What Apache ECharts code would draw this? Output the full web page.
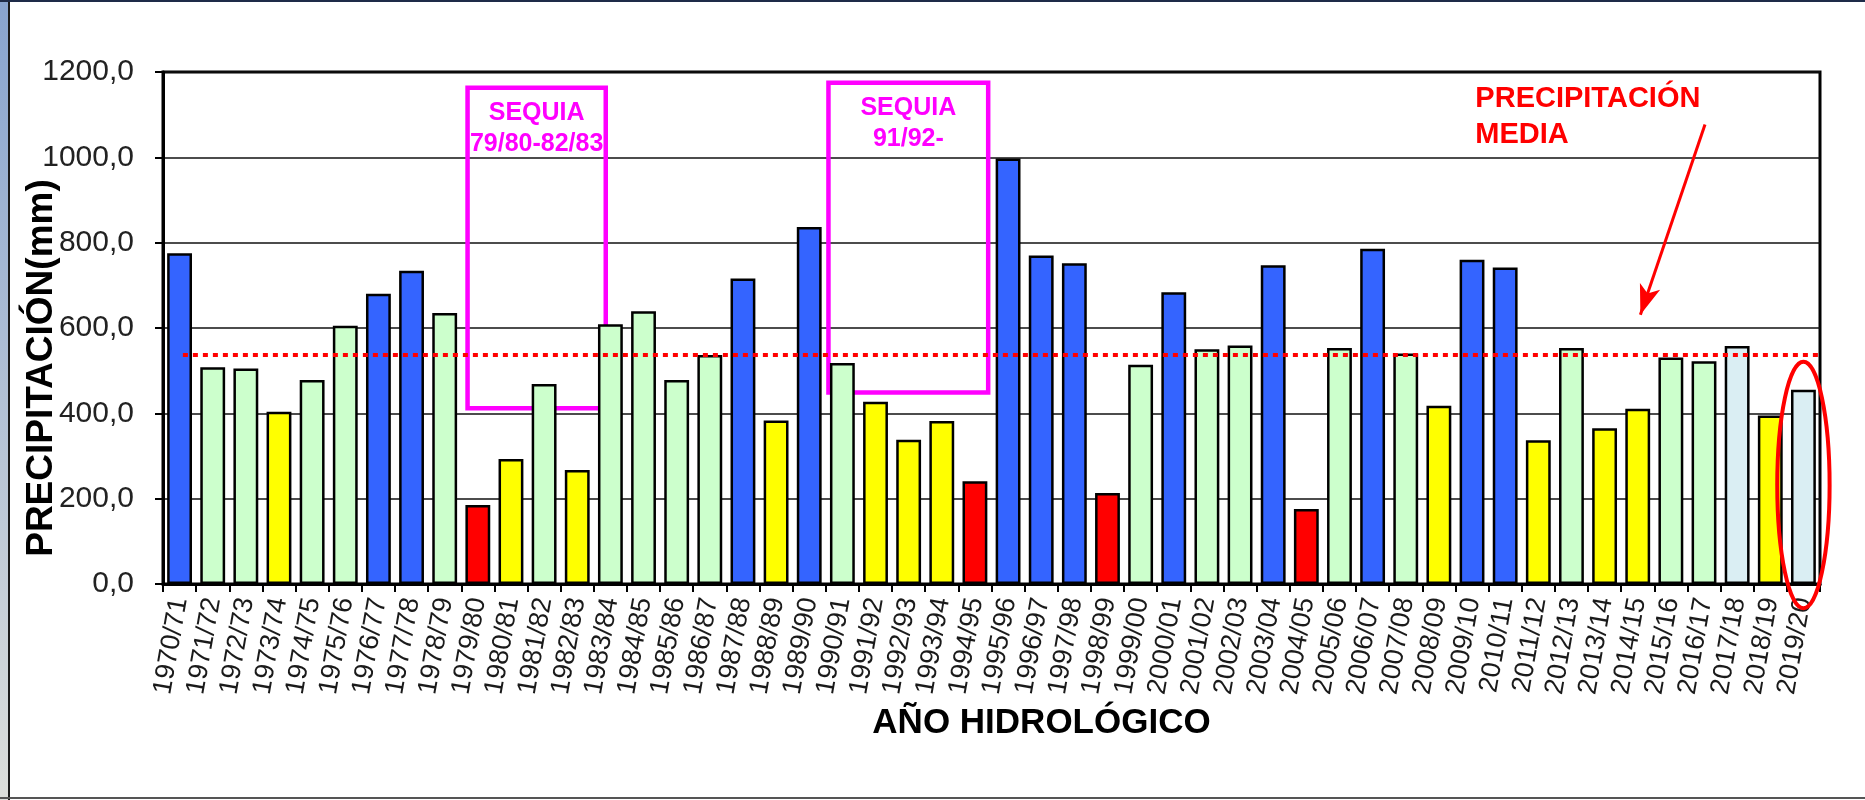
<!DOCTYPE html>
<html>
<head>
<meta charset="utf-8">
<script src="https://cdn.jsdelivr.net/npm/echarts@6/dist/echarts.min.js"></script>
<style>
  html, body { margin: 0; padding: 0; background: #fff; }
  #chart { width: 1865px; height: 800px; }
</style>
</head>
<body>
<div id="chart"></div>
<script>
var years = ['1970/71', '1971/72', '1972/73', '1973/74', '1974/75', '1975/76', '1976/77', '1977/78', '1978/79', '1979/80',
    '1980/81', '1981/82', '1982/83', '1983/84', '1984/85', '1985/86', '1986/87', '1987/88', '1988/89', '1989/90',
    '1990/91', '1991/92', '1992/93', '1993/94', '1994/95', '1995/96', '1996/97', '1997/98', '1998/99', '1999/00',
    '2000/01', '2001/02', '2002/03', '2003/04', '2004/05', '2005/06', '2006/07', '2007/08', '2008/09', '2009/10',
    '2010/11', '2011/12', '2012/13', '2013/14', '2014/15', '2015/16', '2016/17', '2017/18', '2018/19', '2019/20'];

// precipitacion anual (mm)
var precipitacion = [775, 508, 505, 404, 478, 605, 680, 734, 635, 185,
    293, 469, 267, 609, 639, 478, 537, 716, 383, 837,
    518, 427, 338, 382, 241, 997, 770, 752, 213, 514,
    684, 550, 559, 747, 176, 553, 786, 540, 418, 760,
    742, 337, 553, 365, 411, 531, 522, 558, 395, 455];

// H humedo, M medio, S seco, MS muy seco, C en curso
var clase = ['H', 'M', 'M', 'S', 'M', 'M', 'H', 'H', 'M', 'MS',
    'S', 'M', 'S', 'M', 'M', 'M', 'M', 'H', 'S', 'H',
    'M', 'S', 'S', 'S', 'MS', 'H', 'H', 'H', 'MS', 'M',
    'H', 'M', 'M', 'H', 'MS', 'M', 'H', 'M', 'S', 'H',
    'H', 'S', 'M', 'S', 'S', 'M', 'M', 'C', 'S', 'C'];

var precipMedia = 537;
var yTicks = [0, 200, 400, 600, 800, 1000, 1200];

var colores = {H: '#3464FF', M: '#CCFFCC', S: '#FFFF00', MS: '#FF0000', C: '#DAEEF3'};

// recuadros de sequia: [x inicio, x fin] en unidades de categoria, [y abajo, y arriba] en mm
var sequias = [
    {texto: 'SEQUIA\n79/80-82/83', x: [9.19, 13.36], y: [412, 1163]},
    {texto: 'SEQUIA\n91/92-', x: [20.08, 24.9], y: [449, 1175]}
];

var fuente = '"Liberation Sans", Arial, sans-serif';

var chart = echarts.init(document.getElementById('chart'));

var barData = precipitacion.map(function (v, i) {
    return {value: v, itemStyle: {color: colores[clase[i]]}};
});

var option = {
    animation: false,
    textStyle: {fontFamily: fuente},
    grid: {
        left: 163, right: 45, top: 72, bottom: 216,
        outerBoundsMode: 'none',
        show: true, borderColor: '#000', borderWidth: 3
    },
    xAxis: [
        {
            type: 'category',
            data: years,
            axisLine: {lineStyle: {color: '#000', width: 3}},
            axisTick: {show: true, length: 8, lineStyle: {color: '#000', width: 2}},
            axisLabel: {interval: 0, rotate: 80, fontSize: 27, color: '#1a1a1a', margin: 14, fontFamily: fuente},
            name: 'AÑO HIDROLÓGICO',
            nameLocation: 'middle',
            nameGap: 122,
            nameTextStyle: {fontSize: 35, fontWeight: 'bold', color: '#000', padding: [0, 0, 0, 100], fontFamily: fuente}
        },
        {type: 'value', min: 0, max: 50, show: false}
    ],
    yAxis: {
        type: 'value',
        min: yTicks[0],
        max: yTicks[yTicks.length - 1],
        interval: 200,
        axisLine: {show: true, lineStyle: {color: '#000', width: 3}},
        axisTick: {show: true, length: 8, lineStyle: {color: '#000', width: 2}},
        axisLabel: {
            fontSize: 30, color: '#222', margin: 29, fontFamily: fuente,
            formatter: function (v) { return v.toFixed(1).replace('.', ','); }
        },
        splitLine: {lineStyle: {color: '#111', width: 1.5}},
        name: 'PRECIPITACIÓN(mm)',
        nameLocation: 'middle',
        nameGap: 103,
        nameMoveOverlap: false,
        nameTextStyle: {fontSize: 37, fontWeight: 'bold', color: '#000', padding: [0, 80, 0, 0], fontFamily: fuente}
    },
    series: [
        {
            type: 'bar',
            data: barData,
            barCategoryGap: '25%',
            itemStyle: {borderColor: '#000', borderWidth: 2.5},
            z: 2
        },
        {
            // linea de precipitacion media
            type: 'line',
            xAxisIndex: 1,
            data: [],
            markLine: {
                silent: true,
                symbol: 'none',
                label: {show: false},
                lineStyle: {color: '#FF0000', width: 4, type: [5, 5]},
                data: [[{coord: [0.6, precipMedia]}, {coord: [50, precipMedia]}]]
            },
            z: 5
        },
        {
            // flecha
            type: 'line',
            xAxisIndex: 1,
            data: [],
            markLine: {
                silent: true,
                symbol: ['none', 'arrow'],
                symbolSize: [16, 30],
                label: {show: false},
                lineStyle: {color: '#FF0000', width: 3, type: 'solid'},
                data: [[{coord: [46.53, 1077]}, {coord: [44.58, 631]}]]
            },
            z: 6
        },
        {
            // recuadros de sequia
            type: 'line',
            xAxisIndex: 1,
            data: [],
            markArea: {
                silent: true,
                itemStyle: {color: 'rgba(0,0,0,0)', borderColor: '#FF00FF', borderWidth: 4.5},
                label: {
                    show: true, position: 'insideTop', distance: 12,
                    color: '#FF00FF', fontSize: 25, fontWeight: 'bold', lineHeight: 31,
                    fontFamily: fuente, align: 'center'
                },
                data: sequias.map(function (s) {
                    return [
                        {name: s.texto, coord: [s.x[0], s.y[1]]},
                        {coord: [s.x[1], s.y[0]]}
                    ];
                })
            },
            z: 7
        }
    ]
};

chart.setOption(option);

// elipse roja y texto de precipitacion media, situados con las escalas del grafico
var c = chart.convertToPixel({xAxisIndex: 1, yAxisIndex: 0}, [49.5, 232]);
var e1 = chart.convertToPixel({xAxisIndex: 1, yAxisIndex: 0}, [48.71, 521]);
var t = chart.convertToPixel({xAxisIndex: 1, yAxisIndex: 0}, [39.6, 1180]);

chart.setOption({
    graphic: [
        {
            type: 'rect', left: 0, top: 0, z: 0,
            shape: {width: 8, height: 800},
            style: {fill: new echarts.graphic.LinearGradient(0, 0, 0, 1, [
                {offset: 0, color: '#88A4CF'}, {offset: 1, color: '#DCDEDB'}])}
        },
        {type: 'rect', left: 8, top: 0, z: 0, shape: {width: 2, height: 800}, style: {fill: '#1b1b1b'}},
        {type: 'rect', left: 0, top: 0, z: 0, shape: {width: 1865, height: 2}, style: {fill: '#1e2b48'}},
        {type: 'rect', left: 0, top: 797, z: 0, shape: {width: 1865, height: 2}, style: {fill: '#555'}},
        {
            type: 'ellipse', z: 100,
            shape: {cx: c[0], cy: c[1], rx: c[0] - e1[0], ry: c[1] - e1[1]},
            style: {fill: null, stroke: '#FF0000', lineWidth: 4}
        },
        {
            type: 'text', z: 100, x: t[0], y: t[1],
            style: {
                text: 'PRECIPITACIÓN\nMEDIA', fill: '#FF0000',
                font: 'bold 29px ' + fuente, lineHeight: 36
            }
        }
    ]
});
</script>
</body>
</html>
